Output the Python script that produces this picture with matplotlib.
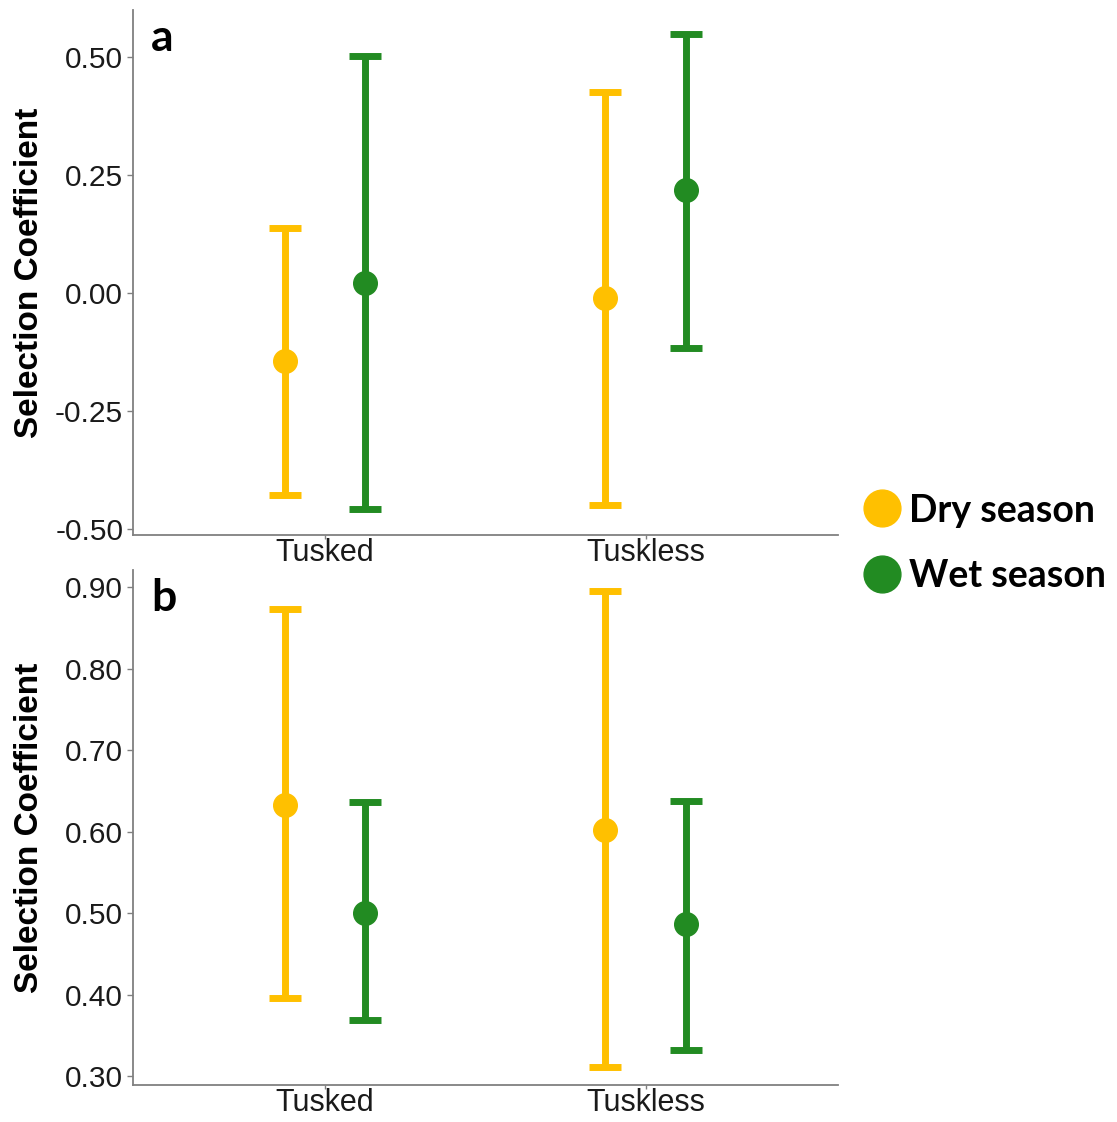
import numpy as np
import matplotlib.pyplot as plt
from matplotlib.lines import Line2D

# data
groups = ["Tusked", "Tuskless"]
seasons = ["Dry season", "Wet season"]
colors = ["#FFC000", "#228B22"]

# panel a: mean, lower, upper for [dry, wet] per group
a_mean = [[-0.144, 0.021], [-0.011, 0.218]]
a_low = [[-0.428, -0.458], [-0.449, -0.117]]
a_up = [[0.138, 0.502], [0.426, 0.549]]

# panel b
b_mean = [[0.633, 0.500], [0.602, 0.486]]
b_low = [[0.396, 0.369], [0.311, 0.332]]
b_up = [[0.873, 0.636], [0.895, 0.638]]

plt.rcParams['font.family'] = ['Liberation Sans', 'DejaVu Sans']

fig = plt.figure(figsize=(11.17, 11.22), dpi=100)
ax_a = fig.add_axes([0.119, 0.523, 0.631, 0.468])
ax_b = fig.add_axes([0.119, 0.033, 0.631, 0.459])

offsets = [-0.125, 0.125]
x = np.arange(1, len(groups) + 1)


def draw(ax, mean, low, up, ylim, yticks, letter):
    for s in range(2):
        m = np.array([mean[g][s] for g in range(2)])
        lo = np.array([low[g][s] for g in range(2)])
        hi = np.array([up[g][s] for g in range(2)])
        ax.errorbar(x + offsets[s], m, yerr=[m - lo, hi - m], fmt='o',
                    color=colors[s], ecolor=colors[s], elinewidth=5,
                    capsize=11.5, capthick=5, markersize=17, zorder=3)
    ax.set_xlim(0.4, 2.6)
    ax.set_ylim(*ylim)
    ax.set_yticks(yticks)
    ax.set_yticklabels(["%.2f" % t for t in yticks])
    ax.set_xticks(x)
    ax.set_xticklabels(groups)
    for sp in ["top", "right"]:
        ax.spines[sp].set_visible(False)
    for sp in ["left", "bottom"]:
        ax.spines[sp].set_color("#808080")
        ax.spines[sp].set_linewidth(1.3)
    ax.tick_params(axis='both', colors="#808080", labelcolor="#1a1a1a",
                   labelsize=21.5, length=4, width=1)
    ax.tick_params(axis='x', pad=-1, length=3, labelsize=22)
    ax.tick_params(axis='y', pad=3)
    ax.set_ylabel("Selection Coefficient", fontsize=24, fontweight='bold')
    ax.yaxis.set_label_coords(-0.125, 0.5)
    ax.text(0.026, 0.985, letter, transform=ax.transAxes, fontsize=32,
            fontweight='bold', family=['Lato', 'DejaVu Sans'],
            va='top', ha='left')


draw(ax_a, a_mean, a_low, a_up, (-0.513, 0.60),
     [-0.50, -0.25, 0.00, 0.25, 0.50], "a")
draw(ax_b, b_mean, b_low, b_up, (0.289, 0.921),
     [0.30, 0.40, 0.50, 0.60, 0.70, 0.80, 0.90], "b")

handles = [Line2D([], [], marker='o', linestyle='', markersize=26.5,
                  color=c) for c in colors]
fig.legend(handles, seasons, loc='center left', bbox_to_anchor=(0.7735, 0.5156),
           frameon=False, borderpad=0, borderaxespad=0, handlelength=0.95,
           handletextpad=0.25, labelspacing=0.85,
           prop={'family': 'Lato', 'weight': 'bold', 'size': 27})

fig.savefig("out.png", dpi=100)
